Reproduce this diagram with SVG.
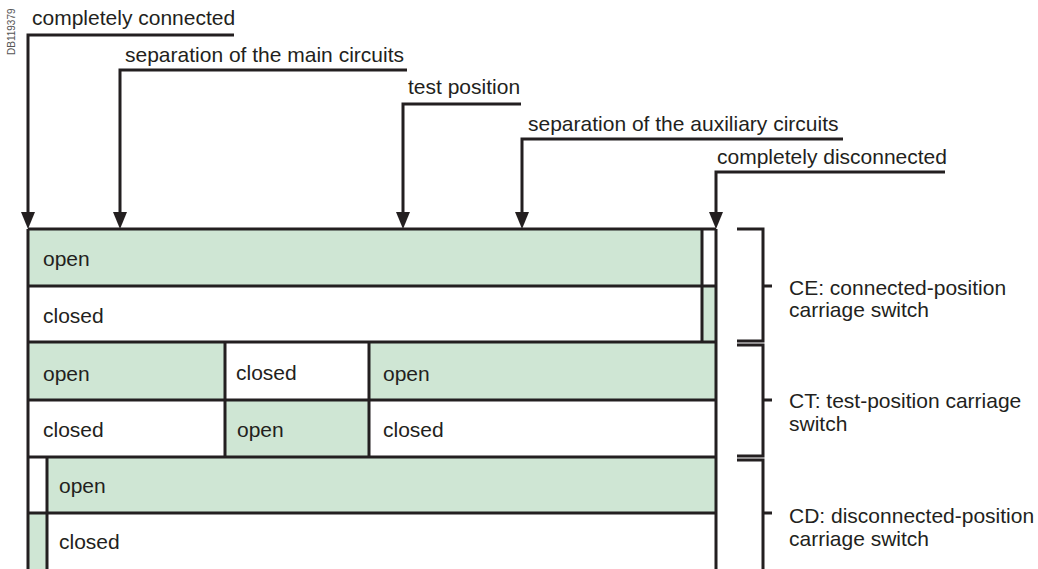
<svg xmlns="http://www.w3.org/2000/svg" width="1038" height="569" viewBox="0 0 1038 569">
<defs>
<style>
text{font-family:"Liberation Sans",Arial,sans-serif;font-size:21px;fill:#231f20}
.id{font-size:10px;fill:#555}
.ln{fill:none;stroke:#231f20;stroke-width:3}
.g{fill:#cfe6d4}
.w{fill:#ffffff}
.ah{fill:#231f20}
</style>
</defs>
<rect width="1038" height="569" fill="#ffffff"/>
<text class="id" transform="translate(15,55) rotate(-90)">DB119379</text>

<g id="row-ce-open">
<rect class="g" x="28" y="229" width="674" height="57"/>
<rect class="w" x="702" y="229" width="14" height="57"/>
<text x="43" y="266">open</text>
</g>
<g id="row-ce-closed">
<rect class="w" x="28" y="286" width="674" height="56"/>
<rect class="g" x="702" y="286" width="14" height="56"/>
<text x="43" y="323">closed</text>
</g>
<g id="row-ct-1">
<rect class="g" x="28" y="342" width="197" height="58"/>
<rect class="w" x="225" y="342" width="144" height="58"/>
<rect class="g" x="369" y="342" width="347" height="58"/>
<text x="43" y="381">open</text>
<text x="236" y="380">closed</text>
<text x="383" y="381">open</text>
</g>
<g id="row-ct-2">
<rect class="w" x="28" y="400" width="197" height="57"/>
<rect class="g" x="225" y="400" width="144" height="57"/>
<rect class="w" x="369" y="400" width="347" height="57"/>
<text x="43" y="437">closed</text>
<text x="237" y="437">open</text>
<text x="383" y="437">closed</text>
</g>
<g id="row-cd-open">
<rect class="w" x="28" y="457" width="19" height="56"/>
<rect class="g" x="47" y="457" width="669" height="56"/>
<text x="59" y="493">open</text>
</g>
<g id="row-cd-closed">
<rect class="g" x="28" y="513" width="19" height="60"/>
<rect class="w" x="47" y="513" width="669" height="60"/>
<text x="59" y="549">closed</text>
</g>

<g id="grid">
<path class="ln" d="M28,229 H716 M28,286 H716 M28,342 H716 M28,400 H716 M28,457 H716 M28,513 H716"/>
<path class="ln" d="M28,229 V572 M716,229 V572 M702,229 V342 M225,342 V457 M369,342 V457 M47,457 V572"/>
</g>

<g id="brackets">
<path class="ln" d="M737,229 H763 V341 H737 M763,286 H772"/>
<path class="ln" d="M737,345 H763 V456 H737 M763,400 H772"/>
<path class="ln" d="M737,460 H763 V572 M763,513 H772"/>
</g>
<g id="label-ce"><text x="789" y="295">CE: connected-position</text><text x="789" y="317">carriage switch</text></g>
<g id="label-ct"><text x="789" y="408">CT: test-position carriage</text><text x="789" y="431">switch</text></g>
<g id="label-cd"><text x="789" y="523">CD: disconnected-position</text><text x="789" y="546">carriage switch</text></g>

<g id="connectors">
<path class="ln" d="M234,35 H28 V212"/>
<path class="ln" d="M407,70 H120 V212"/>
<path class="ln" d="M521,104 H403 V212"/>
<path class="ln" d="M843,139 H522 V212"/>
<path class="ln" d="M945,172 H716 V212"/>
<polygon class="ah" points="21,212 35,212 28,229"/>
<polygon class="ah" points="113,212 127,212 120,229"/>
<polygon class="ah" points="396,212 410,212 403,229"/>
<polygon class="ah" points="515,212 529,212 522,229"/>
<polygon class="ah" points="709,212 723,212 716,229"/>
</g>
<g id="position-labels">
<text x="32" y="25">completely connected</text>
<text x="125" y="62">separation of the main circuits</text>
<text x="408" y="94">test position</text>
<text x="528" y="131">separation of the auxiliary circuits</text>
<text x="717" y="164">completely disconnected</text>
</g>
</svg>
